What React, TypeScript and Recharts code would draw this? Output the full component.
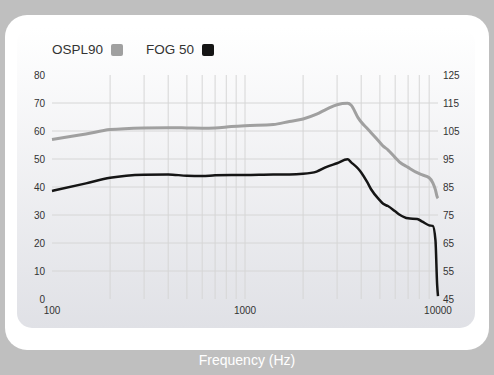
import { LineChart, Line, XAxis, YAxis, ReferenceLine } from "recharts";

const freqs = [
  100, 150, 200, 300, 400, 500, 600, 700, 850, 1000, 1400, 1700, 2000, 2350,
  2650, 3000, 3400, 3550, 3850, 4000, 4300, 4500, 5000, 5200, 5500, 6000, 6300,
  7000, 7800, 8300, 9000, 9400, 9700, 9900, 10000,
];
// OSPL90 read against the right axis (dB SPL)
const ospl90 = [
  102, 103.9, 105.5, 106.1, 106.2, 106.1, 106.0, 106.1, 106.6, 106.9, 107.3,
  108.4, 109.3, 111, 112.8, 114.4, 114.9, 114.2, 109.8, 108.2, 105.9, 104.4,
  100.9, 99.6, 98.3, 95.5, 94, 92, 90.1, 89.3, 88.3, 86.5, 84, 81.5, 81,
];
// FOG 50 read against the left axis
const fog50 = [
  38.6, 41.3, 43.3, 44.4, 44.5, 44, 43.9, 44.2, 44.3, 44.3, 44.5, 44.5, 44.7,
  45.5, 47.2, 48.5, 49.9, 48.8, 46.6, 45.2, 41.7, 39.2, 35.2, 34, 33.2, 31.3,
  30.2, 28.8, 28.6, 27.6, 26.3, 26.1, 21, 5, 1,
];

const xTicks = [100, 1000, 10000];
const leftTicks = [0, 10, 20, 30, 40, 50, 60, 70, 80];
const rightTicks = [45, 55, 65, 75, 85, 95, 105, 115, 125];
const gridFreqs = [
  200, 300, 400, 500, 600, 700, 800, 900, 1000, 2000, 3000, 4000, 5000, 6000,
  7000, 8000, 9000,
];
const gridLevels = [10, 20, 30, 40, 50, 60, 70];

const legendItems = [
  { name: "OSPL90", color: "#a0a0a0" },
  { name: "FOG 50", color: "#151515" },
];

const data = freqs.map((f, i) => ({ f, ospl: ospl90[i], fog: fog50[i] }));

const tickStyle = { fontSize: 10, fill: "#333" };

export default function App() {
  return (
    <div
      style={{
        position: "relative",
        width: 494,
        height: 375,
        background: "#bfbfbf",
        fontFamily: "'Liberation Sans', Arial, sans-serif",
        overflow: "hidden",
      }}
    >
      <style>{`body{margin:0}`}</style>
      <div
        style={{
          position: "absolute",
          left: 5,
          top: 15,
          width: 484,
          height: 335,
          borderRadius: 22,
          background: "#ffffff",
        }}
      />
      <div
        style={{
          position: "absolute",
          left: 17,
          top: 28,
          width: 458,
          height: 300,
          borderRadius: 15,
          background: "linear-gradient(#ffffff, #e0e1e6)",
        }}
      />
      <div
        style={{
          position: "absolute",
          left: 52,
          top: 42,
          display: "flex",
          alignItems: "center",
          fontSize: 13.5,
          color: "#333",
        }}
      >
        {legendItems.map((p) => (
          <div key={p.name} style={{ display: "flex", alignItems: "center", marginRight: 23 }}>
            <span>{p.name}</span>
            <span
              style={{
                display: "inline-block",
                width: 12,
                height: 12,
                borderRadius: 2,
                background: p.color,
                marginLeft: 8,
              }}
            />
          </div>
        ))}
      </div>
      <div style={{ position: "absolute", left: 0, top: 0 }}>
        <LineChart width={494} height={375} data={data} margin={{ top: 75, right: 0, bottom: 56, left: 0 }}>
          {gridLevels.map((v) => (
            <ReferenceLine key={"h" + v} yAxisId="left" y={v} stroke="#d6d6d6" strokeWidth={1} />
          ))}
          {gridFreqs.map((v) => (
            <ReferenceLine key={"v" + v} yAxisId="left" x={v} stroke="#d6d6d6" strokeWidth={1} />
          ))}
          <XAxis
            dataKey="f"
            type="number"
            scale="log"
            domain={[100, 10000]}
            ticks={xTicks}
            height={20}
            axisLine={false}
            tickLine={false}
            tickSize={0}
            tickMargin={8}
            tick={tickStyle}
          />
          <YAxis
            yAxisId="left"
            domain={[0, 80]}
            ticks={leftTicks}
            width={52}
            axisLine={false}
            tickLine={false}
            tickSize={0}
            tickMargin={7}
            tick={tickStyle}
          />
          <YAxis
            yAxisId="right"
            orientation="right"
            domain={[45, 125]}
            ticks={rightTicks}
            width={56}
            axisLine={false}
            tickLine={false}
            tickSize={0}
            tickMargin={5}
            tick={tickStyle}
          />
          <Line
            yAxisId="right"
            name="OSPL90"
            dataKey="ospl"
            type="monotone"
            stroke="#a0a0a0"
            strokeWidth={3}
            dot={false}
            isAnimationActive={false}
          />
          <Line
            yAxisId="left"
            name="FOG 50"
            dataKey="fog"
            type="monotone"
            stroke="#151515"
            strokeWidth={2.5}
            dot={false}
            isAnimationActive={false}
          />
        </LineChart>
      </div>
      <div
        style={{
          position: "absolute",
          left: 0,
          width: 494,
          top: 352,
          textAlign: "center",
          color: "#ffffff",
          fontSize: 14,
        }}
      >
        Frequency (Hz)
      </div>
    </div>
  );
}
